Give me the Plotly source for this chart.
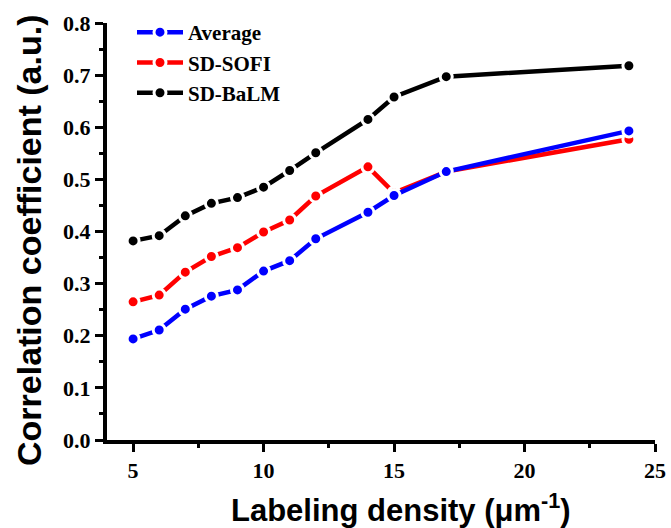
import plotly.graph_objects as go

density = [5, 6, 7, 8, 9, 10, 11, 12, 14, 15, 17, 24]
average = [0.194, 0.211, 0.251, 0.276, 0.288, 0.324, 0.344, 0.386, 0.437, 0.469, 0.515, 0.593]
sd_sofi = [0.265, 0.278, 0.322, 0.352, 0.369, 0.399, 0.422, 0.468, 0.524, 0.474, 0.515, 0.577]
sd_balm = [0.382, 0.392, 0.430, 0.454, 0.465, 0.485, 0.517, 0.551, 0.615, 0.658, 0.697, 0.718]

series = [
    ("SD-SOFI", sd_sofi, "#ff0000", 2),
    ("SD-BaLM", sd_balm, "#000000", 3),
    ("Average", average, "#0000ff", 1),
]

W, H = 671, 528
L, R, T, B = 107, 16, 23, 88
pw, ph = W - L - R, H - T - B

fig = go.Figure()
for name, vals, color, rank in series:
    fig.add_trace(go.Scatter(
        x=density, y=vals, name=name, mode="lines+markers",
        line=dict(color=color, width=4.5),
        marker=dict(color=color, size=12, line=dict(color="white", width=3)),
        legendrank=rank, cliponaxis=False,
    ))

tick_font = dict(family="Liberation Serif", size=22, color="black", weight="bold")

def px2paper(px, py):
    return (px - L) / pw, (H - B - py) / ph

xt = px2paper(401, 508)
yt = px2paper(29, 240)
lg = px2paper(132, 12)

fig.update_layout(
    width=W, height=H, autosize=False,
    margin=dict(l=L, r=R, t=T, b=B, autoexpand=False),
    paper_bgcolor="white", plot_bgcolor="white",
    showlegend=True,
    legend=dict(x=lg[0], y=lg[1], xanchor="left", yanchor="top", itemwidth=46,
                font=dict(family="Liberation Serif", size=21, color="black", weight="bold"),
                bgcolor="rgba(0,0,0,0)", borderwidth=0),
    xaxis=dict(range=[4, 25], tick0=5, dtick=5, showgrid=False, zeroline=False,
               automargin=False,
               showline=True, linecolor="black", linewidth=4,
               ticks="outside", ticklen=8, tickwidth=3, tickcolor="black",
               tickfont=tick_font,
               minor=dict(ticks="outside", ticklen=4, tickwidth=3, tickcolor="black", dtick=2.5, tick0=5)),
    yaxis=dict(range=[0, 0.8], dtick=0.1, tickformat=".1f", showgrid=False, zeroline=False,
               automargin=False,
               showline=True, linecolor="black", linewidth=4,
               ticks="outside", ticklen=8, tickwidth=3, tickcolor="black",
               tickfont=tick_font,
               minor=dict(ticks="outside", ticklen=4, tickwidth=3, tickcolor="black", dtick=0.05)),
    annotations=[
        dict(text="<b>Labeling density (μm<sup>-1</sup>)</b>", x=xt[0], y=xt[1],
             xref="paper", yref="paper", xanchor="center", yanchor="middle",
             showarrow=False, font=dict(family="Liberation Sans", size=31, color="black")),
        dict(text="<b>Correlation coefficient (a.u.)</b>", x=yt[0], y=yt[1],
             xref="paper", yref="paper", xanchor="center", yanchor="middle",
             showarrow=False, textangle=-90,
             font=dict(family="Liberation Sans", size=34, color="black")),
    ],
)

fig.write_html("out.html", config={"displayModeBar": False, "responsive": False},
               post_script="document.body.style.margin='0';document.body.style.overflow='hidden';")
